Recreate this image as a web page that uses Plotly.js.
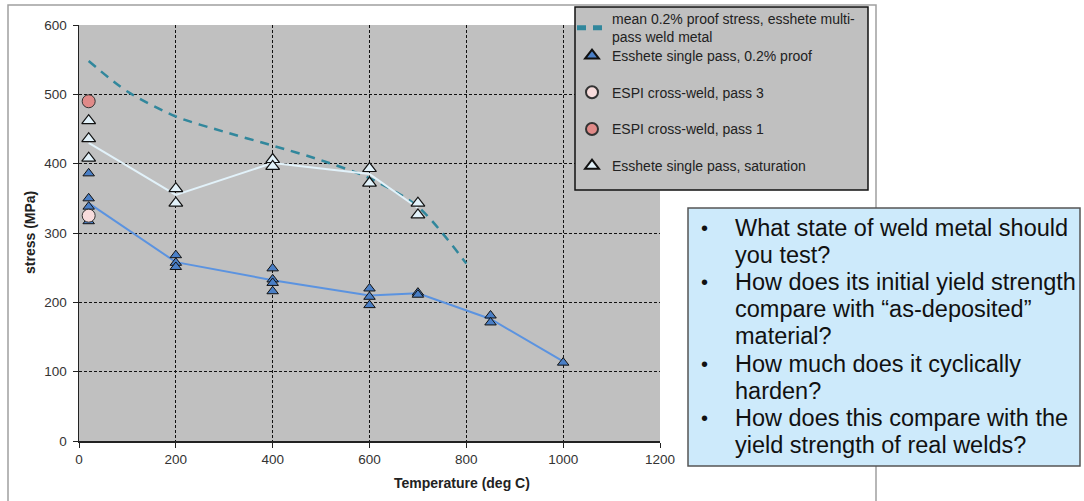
<!DOCTYPE html>
<html>
<head>
<meta charset="utf-8">
<script src="https://cdn.plot.ly/plotly-3.0.1.min.js"></script>
<style>
  html, body { margin: 0; padding: 0; background: #ffffff; }
  #chart { width: 1084px; height: 501px; }
</style>
</head>
<body>
<div id="chart"></div>
<script>
// Mean 0.2% proof stress of Esshete multi-pass weld metal (smooth curve)
const meanTemp = [20, 100, 200, 300, 400, 500, 600, 700, 800];
const meanStress = [548, 504, 468, 446, 426, 405, 379, 338, 256];

// Esshete single pass, 0.2% proof: individual test results
const proofTemp = [20, 20, 20, 20, 200, 200, 200, 400, 400, 400, 400, 600, 600, 600, 700, 700, 850, 850, 1000];
const proofStress = [386, 350, 338, 317, 268, 257, 251, 249, 233, 228, 216, 220, 208, 196, 214, 211, 181, 171, 113];

// Esshete single pass, 0.2% proof: average trend
const proofTrendTemp = [20, 200, 400, 600, 700, 850, 1000];
const proofTrendStress = [343, 258, 232, 210, 213, 176, 115];

// Esshete single pass, saturation stress: individual results
const satTemp = [20, 20, 20, 200, 200, 400, 400, 600, 600, 700, 700];
const satStress = [462, 436, 408, 364, 343, 406, 396, 393, 372, 343, 326];

// Esshete single pass, saturation: average trend
const satTrendTemp = [20, 200, 400, 600, 700];
const satTrendStress = [430, 355, 401, 385, 336];

// ESPI cross-weld results
const espi3Temp = [20];
const espi3Stress = [325];
const espi1Temp = [20];
const espi1Stress = [490];

// Axis ticks
const xTicks = [0, 200, 400, 600, 800, 1000, 1200];
const yTicks = [0, 100, 200, 300, 400, 500, 600];

// Legend labels and side notes
const seriesNames = [
  'mean 0.2% proof stress, esshete multi-<br>pass weld metal',
  'Esshete single pass, 0.2% proof',
  'ESPI cross-weld, pass 3',
  'ESPI cross-weld, pass 1',
  'Esshete single pass, saturation'
];
const noteLines = [
  'What state of weld metal should',
  'you test?',
  'How does its initial yield strength',
  'compare with \u201cas-deposited\u201d',
  'material?',
  'How much does it cyclically',
  'harden?',
  'How does this compare with the',
  'yield strength of real welds?'
];
const bulletLines = [0, 2, 5, 7];

const FONT = 'Liberation Sans, Arial, sans-serif';

// plot area in pixels: left 79, right 660, top 25, bottom 441
const PL = 79, PR = 660, PT = 25, PB = 441;
const px = p => (p - PL) / (PR - PL);
const py = q => (PB - q) / (PB - PT);

const traces = [
  {
    x: meanTemp, y: meanStress, mode: 'lines', name: seriesNames[0],
    line: { color: '#31879c', width: 2.5, dash: '9px,7px', shape: 'spline', smoothing: 0.8 },
    legend: 'legend', legendgroup: 'g0', hoverinfo: 'x+y'
  },
  {
    x: proofTrendTemp, y: proofTrendStress, mode: 'lines', showlegend: false,
    line: { color: '#5b93e0', width: 2 }, hoverinfo: 'skip'
  },
  {
    x: satTrendTemp, y: satTrendStress, mode: 'lines', showlegend: false,
    line: { color: '#e2f2fa', width: 2 }, hoverinfo: 'skip'
  },
  {
    x: proofTemp, y: proofStress, mode: 'markers', name: seriesNames[1],
    marker: { symbol: 'triangle-up', size: 10, color: '#4a7fc6', line: { color: '#111111', width: 1 } },
    legend: 'legend2', legendgroup: 'g1'
  },
  {
    x: espi3Temp, y: espi3Stress, mode: 'markers', name: seriesNames[2],
    marker: { symbol: 'circle', size: 13, color: '#f8dcdc', line: { color: '#333333', width: 1 } },
    legend: 'legend2', legendgroup: 'g2'
  },
  {
    x: espi1Temp, y: espi1Stress, mode: 'markers', name: seriesNames[3],
    marker: { symbol: 'circle', size: 13, color: '#e08a88', line: { color: '#333333', width: 1 } },
    legend: 'legend2', legendgroup: 'g3'
  },
  {
    x: satTemp, y: satStress, mode: 'markers', name: seriesNames[4],
    marker: { symbol: 'triangle-up', size: 12, color: '#e2f2fa', line: { color: '#111111', width: 1.2 } },
    legend: 'legend2', legendgroup: 'g4'
  }
];

const annotations = [
  {
    xref: 'paper', yref: 'paper', x: px(462), y: py(483), xanchor: 'center', yanchor: 'middle',
    text: '<b>Temperature (deg C)</b>', showarrow: false,
    font: { family: FONT, size: 14, color: '#222222' }
  },
  {
    xref: 'paper', yref: 'paper', x: px(30), y: py(233), xanchor: 'center', yanchor: 'middle',
    text: '<b>stress (MPa)</b>', textangle: -90, showarrow: false,
    font: { family: FONT, size: 14, color: '#222222' }
  }
];

noteLines.forEach((t, i) => {
  const yc = 228 + i * 27.1;
  annotations.push({
    xref: 'paper', yref: 'paper', x: px(733), y: py(yc), xanchor: 'left', yanchor: 'middle',
    text: t, showarrow: false, font: { family: FONT, size: 23.5, color: '#111111' }
  });
  if (bulletLines.includes(i)) {
    annotations.push({
      xref: 'paper', yref: 'paper', x: px(704), y: py(yc), xanchor: 'center', yanchor: 'middle',
      text: '\u2022', showarrow: false, font: { family: FONT, size: 20, color: '#111111' }
    });
  }
});

const shapes = [
  // outer chart frame
  {
    type: 'rect', xref: 'paper', yref: 'paper', layer: 'below',
    x0: px(8), x1: px(876), y0: py(530), y1: py(5),
    line: { color: '#a0a0a0', width: 1.5 }, fillcolor: 'rgba(0,0,0,0)'
  },
  // legend panel
  {
    type: 'rect', xref: 'paper', yref: 'paper', layer: 'above',
    x0: px(575), x1: px(868), y0: py(190), y1: py(7),
    line: { color: '#111111', width: 1.5 }, fillcolor: '#c0c0c0'
  },
  // question panel
  {
    type: 'rect', xref: 'paper', yref: 'paper', layer: 'above',
    x0: px(688), x1: px(1080), y0: py(466), y1: py(208),
    line: { color: '#555555', width: 1.5 }, fillcolor: '#cdeafb'
  }
];

const legendCommon = {
  xanchor: 'left', yanchor: 'top',
  bgcolor: 'rgba(0,0,0,0)', borderwidth: 0,
  font: { family: FONT, size: 14, color: '#222222' },
  traceorder: 'grouped', itemsizing: 'constant'
};

const layout = {
  width: 1084, height: 501,
  margin: { l: PL, r: 1084 - PR, t: PT, b: 501 - PB, autoexpand: false },
  paper_bgcolor: '#ffffff',
  plot_bgcolor: '#c0c0c0',
  font: { family: FONT, size: 13.5, color: '#333333' },
  showlegend: true,
  legend: Object.assign({ x: px(572), y: py(3), tracegroupgap: 0 }, legendCommon),
  legend2: Object.assign({ x: px(572), y: py(40), tracegroupgap: 15.5 }, legendCommon),
  xaxis: {
    range: [0, 1200], tickvals: xTicks, ticktext: xTicks.map(String),
    showline: true, linecolor: '#222222', linewidth: 1.5,
    ticks: 'outside', ticklen: 5, tickcolor: '#222222',
    showgrid: true, gridcolor: '#111111', gridwidth: 1, griddash: '3px,2px',
    zeroline: false, tickfont: { family: FONT, size: 13.5, color: '#333333' }
  },
  yaxis: {
    range: [0, 600], tickvals: yTicks, ticktext: yTicks.map(String),
    showline: true, linecolor: '#222222', linewidth: 1.5,
    ticks: 'outside', ticklen: 5, tickcolor: '#222222', ticklabelstandoff: 3,
    showgrid: true, gridcolor: '#111111', gridwidth: 1, griddash: '3px,2px',
    zeroline: false, tickfont: { family: FONT, size: 13.5, color: '#333333' }
  },
  shapes: shapes,
  annotations: annotations
};

Plotly.newPlot('chart', traces, layout, { displayModeBar: false, staticPlot: true });
</script>
</body>
</html>
